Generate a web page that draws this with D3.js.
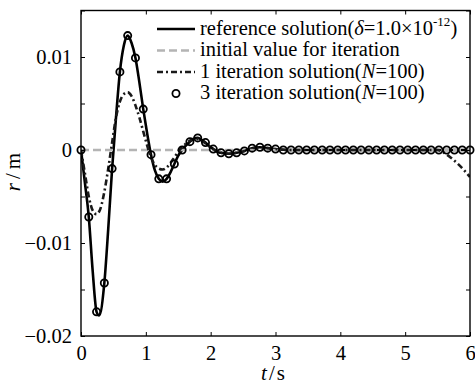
<!DOCTYPE html>
<html>
<head>
<meta charset="utf-8">
<script src="https://cdn.jsdelivr.net/npm/d3@7"></script>
<style>
  body { margin: 0; background: #fff; }
  svg, svg text { font-family: 'Liberation Serif', 'Times New Roman', 'DejaVu Serif', serif !important; }
</style>
</head>
<body>
<svg id="chart" width="475" height="385"></svg>
<script>
// ---- data ----
const xTicks = [0, 1, 2, 3, 4, 5, 6];
const yTickLabels = [0.01, 0, -0.01, -0.02];
const yTicksAll = [0.015, 0.01, 0.005, 0, -0.005, -0.01, -0.015, -0.02];

const legendLabels = [
  "reference solution",
  "initial value for iteration",
  "1 iteration solution",
  "3 iteration solution"
];

// reference solution (delta = 1.0e-12)
const refT = [0, 0.06, 0.12, 0.18, 0.24, 0.28, 0.36, 0.42, 0.48, 0.54, 0.60, 0.66, 0.72, 0.78, 0.84, 0.90, 0.96, 1.02, 1.08, 1.14, 1.20, 1.26, 1.32, 1.38, 1.44, 1.50, 1.56, 1.62, 1.68, 1.74, 1.80, 1.86, 1.92, 1.98, 2.04, 2.10, 2.16, 2.28, 2.40, 2.52, 2.64, 2.76, 2.88, 3.00, 3.20, 4.00, 5.00, 6.00];
const refR = [0, -0.0035, -0.0072, -0.0130, -0.0174, -0.0178, -0.0143, -0.0085, -0.0020, 0.0035, 0.0084, 0.0112, 0.0123, 0.0115, 0.0099, 0.0073, 0.0044, 0.0018, -0.0005, -0.0022, -0.0031, -0.0034, -0.0031, -0.0024, -0.0015, -0.0006, 0.0000, 0.0005, 0.0009, 0.0012, 0.0013, 0.0011, 0.0008, 0.0004, 0.0001, -0.0002, -0.0003, -0.0004, -0.0003, -0.0001, 0.0002, 0.0003, 0.0002, 0.0001, 0, 0, 0, 0];

// initial value for iteration
const initT = [0, 6];
const initR = [0, 0];

// 1 iteration solution (N = 100)
const it1T = [0, 0.06, 0.12, 0.18, 0.24, 0.30, 0.36, 0.42, 0.48, 0.54, 0.60, 0.66, 0.72, 0.78, 0.84, 0.90, 0.96, 1.02, 1.08, 1.14, 1.20, 1.26, 1.32, 1.38, 1.44, 1.50, 1.56, 1.62, 1.68, 1.74, 1.80, 1.86, 1.92, 2.04, 2.16, 2.28, 2.40, 2.52, 2.64, 2.76, 2.88, 3.00, 3.20, 4.00, 5.00, 5.50, 5.60, 5.70, 5.80, 5.90, 6.00];
const it1R = [0, -0.0025, -0.0050, -0.0065, -0.0069, -0.0063, -0.0045, -0.0020, 0.0008, 0.0035, 0.0052, 0.0060, 0.0062, 0.0058, 0.0048, 0.0035, 0.0020, 0.0005, -0.0008, -0.0016, -0.0020, -0.0021, -0.0019, -0.0014, -0.0008, -0.0002, 0.0003, 0.0007, 0.0010, 0.0012, 0.0012, 0.0010, 0.0007, 0.0001, -0.0003, -0.0004, -0.0003, -0.0001, 0.0002, 0.0003, 0.0002, 0.0001, 0, 0, 0, 0, -0.0003, -0.0008, -0.0014, -0.0021, -0.0029];

// 3 iteration solution (N = 100), markers
const it3T = [0, 0.12, 0.24, 0.36, 0.48, 0.60, 0.72, 0.84, 0.96, 1.08, 1.20, 1.32, 1.44, 1.56, 1.68, 1.80, 1.92, 2.04, 2.16, 2.28, 2.40, 2.52, 2.64, 2.76, 2.88, 3.00, 3.12, 3.24, 3.36, 3.48, 3.60, 3.72, 3.84, 3.96, 4.08, 4.20, 4.32, 4.44, 4.56, 4.68, 4.80, 4.92, 5.04, 5.16, 5.28, 5.40, 5.52, 5.64, 5.76, 5.88, 6.00];
const it3R = [0, -0.0072, -0.0174, -0.0143, -0.0020, 0.0084, 0.0123, 0.0099, 0.0044, -0.0005, -0.0031, -0.0031, -0.0015, 0.0000, 0.0009, 0.0013, 0.0008, 0.0001, -0.0003, -0.0004, -0.0003, -0.0001, 0.0002, 0.0003, 0.0002, 0.0001, 0, 0, 0, 0, 0, 0, 0, 0, 0, 0, 0, 0, 0, 0, 0, 0, 0, 0, 0, 0, 0, 0, 0, 0, 0];

// ---- layout ----
const svg = d3.select("#chart");
const L = 81, R = 470, T = 10.5, B = 336;
const x = d3.scaleLinear().domain([0, 6]).range([L, R]);
const y = d3.scaleLinear().domain([-0.02, 0.015]).range([B, T]);

const zip = (a, b) => a.map((v, i) => [v, b[i]]);
const line = d3.line().x(d => x(d[0])).y(d => y(d[1])).curve(d3.curveMonotoneX);

svg.append("clipPath").attr("id", "clip").append("rect")
  .attr("x", L).attr("y", T).attr("width", R - L).attr("height", B - T);
const plot = svg.append("g").attr("clip-path", "url(#clip)");

plot.append("path").datum(zip(refT, refR)).attr("d", line)
  .attr("fill", "none").attr("stroke", "#000").attr("stroke-width", 2.6);
plot.append("path").datum(zip(initT, initR)).attr("d", line)
  .attr("fill", "none").attr("stroke", "#b4b4b4").attr("stroke-width", 2.6)
  .attr("stroke-dasharray", "8,4");
plot.append("path").datum(zip(it1T, it1R)).attr("d", line)
  .attr("fill", "none").attr("stroke", "#1a1a1a").attr("stroke-width", 2.6)
  .attr("stroke-dasharray", "6,3,2,3");
svg.append("g").selectAll("circle").data(zip(it3T, it3R)).join("circle")
  .attr("cx", d => x(d[0])).attr("cy", d => y(d[1])).attr("r", 3.6)
  .attr("fill", "none").attr("stroke", "#000").attr("stroke-width", 1.8);

// ---- axes ----
const ax = svg.append("g");
ax.append("rect").attr("x", L).attr("y", T).attr("width", R - L).attr("height", B - T)
  .attr("fill", "none").attr("stroke", "#000").attr("stroke-width", 1.4);

const gBottom = ax.append("g").attr("transform", `translate(0,${B})`)
  .call(d3.axisBottom(x).tickValues(xTicks).tickSizeInner(-4).tickSizeOuter(0).tickPadding(9).tickFormat(d3.format("d")));
const gTop = ax.append("g").attr("transform", `translate(0,${T})`)
  .call(d3.axisTop(x).tickValues(xTicks).tickSizeInner(-4).tickSizeOuter(0).tickFormat(""));
const gLeft = ax.append("g").attr("transform", `translate(${L},0)`)
  .call(d3.axisLeft(y).tickValues(yTicksAll).tickSizeInner(-4).tickSizeOuter(0).tickPadding(9)
    .tickFormat(d => yTickLabels.some(v => Math.abs(v - d) < 1e-9) ? (d === 0 ? "0" : d3.format(".2f")(d).replace("-", "\u2212")) : ""));
const gRight = ax.append("g").attr("transform", `translate(${R},0)`)
  .call(d3.axisRight(y).tickValues(yTicksAll).tickSizeInner(-4).tickSizeOuter(0).tickFormat(""));

[gBottom, gTop, gLeft, gRight].forEach(g => {
  g.attr("font-family", null);
  g.select(".domain").remove();
  g.selectAll("line").attr("stroke", "#000").attr("stroke-width", 1);
  g.selectAll("text").attr("font-size", 20.5).attr("fill", "#000");
});

// axis titles
const xt = svg.append("text").attr("x", 273).attr("y", 380).attr("text-anchor", "middle")
  .attr("font-size", 21);
xt.append("tspan").attr("font-style", "italic").text("t");
xt.append("tspan").attr("dx", 2).text("/");
xt.append("tspan").attr("dx", 2).text("s");

const yt = svg.append("text").attr("transform", "translate(20,172) rotate(-90)").attr("text-anchor", "middle")
  .attr("font-size", 21);
yt.append("tspan").attr("font-style", "italic").text("r");
yt.append("tspan").attr("dx", 4).text("/");
yt.append("tspan").attr("dx", 4).text("m");

// ---- legend ----
const legY = [29, 50.5, 72, 93.5];
const lx0 = 157, lx1 = 195, tx = 200;
const leg = svg.append("g").attr("font-size", 20.5);
leg.append("line").attr("x1", lx0).attr("x2", lx1).attr("y1", legY[0]).attr("y2", legY[0])
  .attr("stroke", "#000").attr("stroke-width", 2.6);
leg.append("line").attr("x1", lx0).attr("x2", lx1).attr("y1", legY[1]).attr("y2", legY[1])
  .attr("stroke", "#b4b4b4").attr("stroke-width", 2.6).attr("stroke-dasharray", "8,4");
leg.append("line").attr("x1", lx0).attr("x2", lx1).attr("y1", legY[2]).attr("y2", legY[2])
  .attr("stroke", "#1a1a1a").attr("stroke-width", 2.6).attr("stroke-dasharray", "6,3,2,3");
leg.append("circle").attr("cx", (lx0 + lx1) / 2).attr("cy", legY[3]).attr("r", 3.6)
  .attr("fill", "none").attr("stroke", "#000").attr("stroke-width", 1.8);

const t0 = leg.append("text").attr("x", tx).attr("y", legY[0] + 5.5);
t0.append("tspan").text(legendLabels[0] + "(");
t0.append("tspan").attr("font-style", "italic").text("\u03b4");
t0.append("tspan").text("=1.0\u00d710");
t0.append("tspan").attr("font-size", 13).attr("dy", -9).text("-12");
t0.append("tspan").attr("dy", 9).text(")");

leg.append("text").attr("x", tx).attr("y", legY[1] + 5.5).text(legendLabels[1]);

[2, 3].forEach(i => {
  const t = leg.append("text").attr("x", tx).attr("y", legY[i] + 5.5);
  t.append("tspan").text(legendLabels[i] + "(");
  t.append("tspan").attr("font-style", "italic").text("N");
  t.append("tspan").text("=100)");
});
</script>
</body>
</html>
